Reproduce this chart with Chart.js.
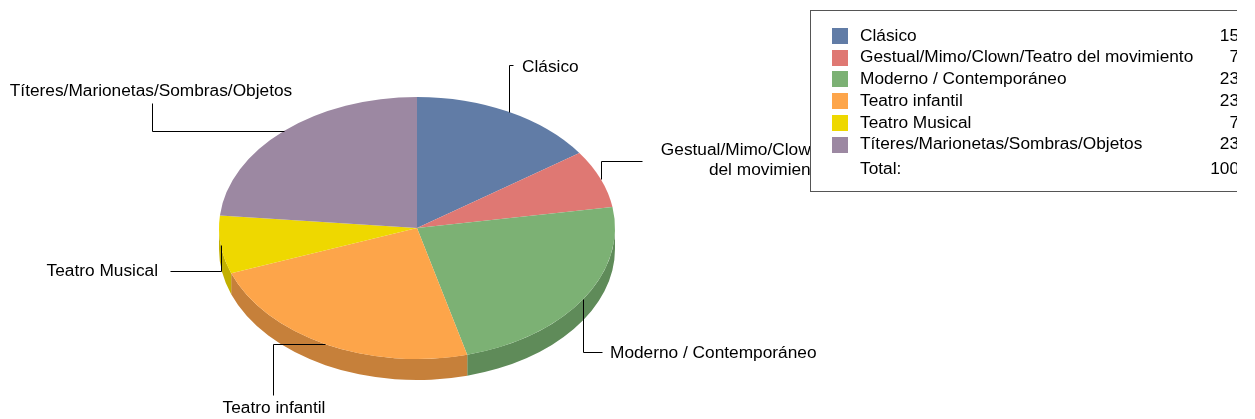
<!DOCTYPE html>
<html>
<head>
<meta charset="utf-8">
<script src="https://cdn.jsdelivr.net/npm/chart.js@4.4.1/dist/chart.umd.min.js"></script>
<style>
  html, body { margin: 0; padding: 0; background: #fff; }
  #wrap { width: 1255px; height: 419px; }
</style>
</head>
<body>
<div id="wrap"><canvas id="genreChart" width="1255" height="419"></canvas></div>
<script>
// Genres and their share (%)
const genres = [
  'Clásico',
  'Gestual/Mimo/Clown/Teatro del movimiento',
  'Moderno / Contemporáneo',
  'Teatro infantil',
  'Teatro Musical',
  'Títeres/Marionetas/Sombras/Objetos'
];
const shares = [15, 7, 23, 23, 7, 23];
const totalShown = 100;

// Slice captions (split into lines)
const sliceCaptions = [
  ['Clásico'],
  ['Gestual/Mimo/Clown/Teatro', 'del movimiento'],
  ['Moderno / Contemporáneo'],
  ['Teatro infantil'],
  ['Teatro Musical'],
  ['Títeres/Marionetas/Sombras/Objetos']
];

const topColors  = ['#617ca6', '#df7873', '#7cb174', '#fda54a', '#eed800', '#9c88a2'];
const sideColors = ['#4b6082', '#ad5c58', '#5f8b59', '#c6803a', '#c2b000', '#79697e'];

const FONT = '17.3px "Liberation Sans", Arial, sans-serif';
const PIE_CY = 228;        // centre of the tilted top face
const TILT = 131 / 198;    // vertical squash of the pie
const DEPTH = 21;          // thickness of the side wall

// leader line bends, from the rim point p of each slice
const leaderPaths = [
  p => [[p.x, 65], [p.x + 4, 65]],
  p => [[p.x, 161], [642, 161]],
  p => [[p.x, 352], [602, 352]],
  p => [[273, p.y], [273, 395]],
  p => [[p.x, 271], [170, 271]],
  p => [[152, p.y], [152, 103]]
];
const captionSpots = [
  { x: 522, y: 67,  align: 'left' },
  { x: 767, y: 150, align: 'center' },
  { x: 610, y: 353, align: 'left' },
  { x: 274, y: 408, align: 'center' },
  { x: 158, y: 271, align: 'right' },
  { x: 151, y: 91,  align: 'center' }
];

function drawCaptions(chart) {
  const ctx = chart.ctx;
  const arcs = chart.getDatasetMeta(0).data;
  const { x, outerRadius: rx } = arcs[0];
  const ry = rx * TILT;
  ctx.save();
  ctx.strokeStyle = '#000';
  ctx.lineWidth = 1;
  ctx.font = FONT;
  ctx.fillStyle = '#000';
  ctx.textBaseline = 'middle';
  arcs.forEach((arc, i) => {
    const mid = (arc.startAngle + arc.endAngle) / 2;
    const p = { x: Math.round(x + rx * Math.cos(mid)), y: Math.round(PIE_CY + ry * Math.sin(mid)) };
    ctx.beginPath();
    ctx.moveTo(p.x + 0.5, p.y + 0.5);
    leaderPaths[i](p).forEach(([lx, ly]) => ctx.lineTo(Math.round(lx) + 0.5, Math.round(ly) + 0.5));
    ctx.stroke();
    const spot = captionSpots[i];
    ctx.textAlign = spot.align;
    sliceCaptions[i].forEach((line, k) => ctx.fillText(line, spot.x, spot.y + k * 20));
  });
  ctx.restore();
}

function drawLegendBox(chart) {
  const ctx = chart.ctx;
  ctx.save();
  ctx.beginPath();
  ctx.rect(0, 0, 1237, 419);
  ctx.clip();
  ctx.fillStyle = '#fff';
  ctx.fillRect(810, 10, 500, 181);
  ctx.strokeStyle = '#555';
  ctx.lineWidth = 1;
  ctx.strokeRect(810.5, 10.5, 500, 181);
  ctx.font = FONT;
  ctx.textBaseline = 'middle';
  genres.forEach((g, i) => {
    const top = 28 + i * 21.7;
    ctx.fillStyle = topColors[i];
    ctx.fillRect(832, Math.round(top), 16, 16);
    ctx.fillStyle = '#000';
    ctx.textAlign = 'left';
    ctx.fillText(g, 860, top + 8);
    ctx.textAlign = 'right';
    ctx.fillText(String(shares[i]), 1239, top + 8);
  });
  ctx.textAlign = 'left';
  ctx.fillText('Total:', 860, 169);
  ctx.textAlign = 'right';
  ctx.fillText(String(totalShown), 1239, 169);
  ctx.restore();
}

// Squashes the pie into an ellipse and adds a side wall under the front half
const pie3d = {
  id: 'pie3d',
  beforeDatasetsDraw(chart) {
    const ctx = chart.ctx;
    const arcs = chart.getDatasetMeta(0).data;
    const { x, y, outerRadius: rx } = arcs[0];
    const ry = rx * TILT;
    arcs.forEach((arc, i) => {
      const a = Math.max(arc.startAngle, 0);
      const b = Math.min(arc.endAngle, Math.PI);
      if (a >= b) return;
      ctx.beginPath();
      ctx.ellipse(x, PIE_CY, rx, ry, 0, a, b);
      ctx.ellipse(x, PIE_CY + DEPTH, rx, ry, 0, b, a, true);
      ctx.closePath();
      ctx.fillStyle = sideColors[i];
      ctx.fill();
    });
    ctx.save();
    ctx.translate(x, PIE_CY);
    ctx.scale(1, TILT);
    ctx.translate(-x, -y);
  },
  afterDatasetsDraw(chart) {
    chart.ctx.restore();
  },
  afterDraw(chart) {
    drawCaptions(chart);
    drawLegendBox(chart);
  }
};

new Chart(document.getElementById('genreChart'), {
  type: 'pie',
  data: {
    labels: genres,
    datasets: [{
      data: shares,
      backgroundColor: topColors,
      borderWidth: 0,
      hoverOffset: 0
    }]
  },
  options: {
    responsive: false,
    animation: false,
    events: [],
    layout: { padding: { left: 219, right: 640, top: 0, bottom: 0 } },
    plugins: {
      legend: { display: false },
      tooltip: { enabled: false }
    }
  },
  plugins: [pie3d]
});
</script>
</body>
</html>
